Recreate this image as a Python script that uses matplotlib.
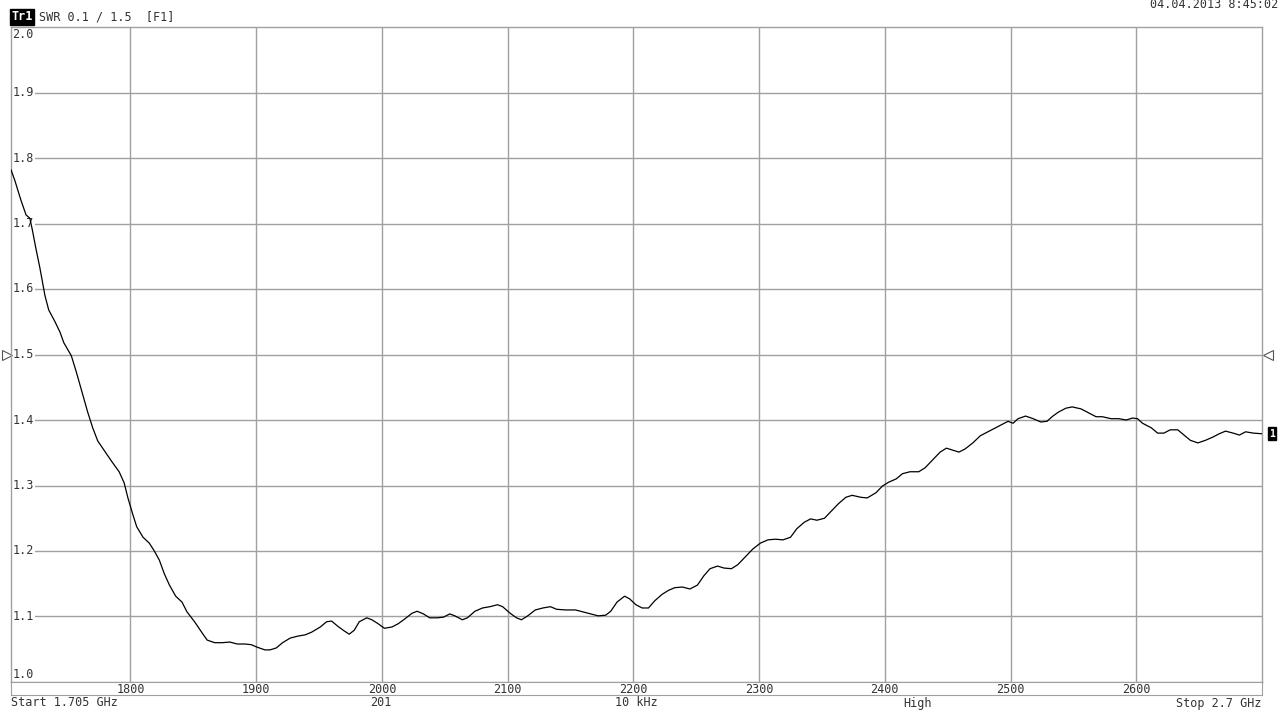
import matplotlib
matplotlib.use('Agg')
from matplotlib import pyplot as plt
from matplotlib.transforms import blended_transform_factory
import numpy as np

# frequency (MHz) and SWR
freq = [1705, 1708, 1713, 1717, 1720, 1722, 1725, 1728, 1732, 1735, 1740, 1744, 1747, 1753,
        1757, 1761, 1766, 1770, 1774, 1779, 1785, 1791, 1795, 1798, 1802, 1805, 1810, 1815,
        1819, 1823, 1827, 1831, 1836, 1841, 1845, 1851, 1857, 1861, 1867, 1873, 1879, 1885,
        1891, 1896, 1901, 1907, 1911, 1916, 1921, 1927, 1933, 1939, 1944, 1951, 1956, 1960,
        1965, 1970, 1974, 1978, 1982, 1988, 1992, 1997, 2002, 2008, 2013, 2018, 2024, 2028,
        2033, 2038, 2044, 2049, 2054, 2058, 2064, 2068, 2074, 2080, 2086, 2092, 2096, 2102,
        2107, 2111, 2116, 2122, 2128, 2134, 2139, 2146, 2154, 2160, 2166, 2172, 2178, 2182,
        2187, 2193, 2197, 2202, 2207, 2212, 2217, 2223, 2228, 2233, 2239, 2245, 2251, 2256,
        2261, 2267, 2272, 2278, 2283, 2289, 2295, 2301, 2307, 2313, 2319, 2325, 2330, 2336,
        2341, 2346, 2352, 2357, 2363, 2369, 2374, 2381, 2386, 2393, 2398, 2403, 2409, 2414,
        2420, 2427, 2432, 2438, 2444, 2449, 2454, 2459, 2464, 2470, 2476, 2483, 2488, 2494,
        2498, 2502, 2506, 2512, 2518, 2524, 2529, 2533, 2538, 2544, 2549, 2556, 2562, 2568,
        2573, 2580, 2586, 2592, 2597, 2601, 2605, 2612, 2617, 2622, 2627, 2633, 2638, 2643,
        2649, 2655, 2661, 2666, 2671, 2677, 2682, 2687, 2693, 2700]
swr = [1.782, 1.766, 1.735, 1.713, 1.708, 1.690, 1.660, 1.632, 1.590, 1.568, 1.550, 1.534,
       1.518, 1.498, 1.473, 1.446, 1.412, 1.388, 1.368, 1.354, 1.337, 1.321, 1.304, 1.281,
       1.255, 1.237, 1.221, 1.212, 1.200, 1.186, 1.165, 1.148, 1.131, 1.122, 1.107, 1.092,
       1.075, 1.064, 1.060, 1.060, 1.061, 1.058, 1.058, 1.057, 1.053, 1.049, 1.049, 1.052,
       1.060, 1.067, 1.070, 1.072, 1.076, 1.084, 1.092, 1.093, 1.085, 1.078, 1.073, 1.079,
       1.092, 1.098, 1.095, 1.089, 1.082, 1.084, 1.089, 1.096, 1.105, 1.108, 1.104, 1.098,
       1.098, 1.099, 1.104, 1.101, 1.095, 1.098, 1.108, 1.113, 1.115, 1.118, 1.115, 1.105,
       1.098, 1.095, 1.101, 1.110, 1.113, 1.115, 1.111, 1.110, 1.110, 1.107, 1.104, 1.101,
       1.102, 1.108, 1.122, 1.131, 1.127, 1.118, 1.113, 1.113, 1.124, 1.134, 1.140, 1.144,
       1.145, 1.142, 1.148, 1.162, 1.173, 1.177, 1.174, 1.173, 1.179, 1.191, 1.203, 1.212,
       1.217, 1.218, 1.217, 1.221, 1.234, 1.244, 1.249, 1.247, 1.250, 1.260, 1.272, 1.282,
       1.285, 1.282, 1.281, 1.289, 1.299, 1.305, 1.310, 1.318, 1.321, 1.321, 1.327, 1.339,
       1.351, 1.357, 1.354, 1.351, 1.356, 1.365, 1.376, 1.383, 1.388, 1.394, 1.398, 1.395,
       1.402, 1.406, 1.402, 1.397, 1.398, 1.405, 1.412, 1.418, 1.420, 1.417, 1.411, 1.405,
       1.405, 1.402, 1.402, 1.400, 1.403, 1.402, 1.395, 1.388, 1.380, 1.380, 1.385, 1.385,
       1.377, 1.369, 1.365, 1.369, 1.374, 1.379, 1.383, 1.380, 1.377, 1.382, 1.380, 1.379]

x_ticks = [1800, 1900, 2000, 2100, 2200, 2300, 2400, 2500, 2600]
y_ticks = [1.0, 1.1, 1.2, 1.3, 1.4, 1.5, 1.6, 1.7, 1.8, 1.9, 2.0]
ref_level = 1.5

W, H = 1280, 710
mono = 'DejaVu Sans Mono'
fs = 8.5
grid_col = '#a0a0a0'

fig = plt.figure(figsize=(W / 100, H / 100), dpi=100)
fig.patch.set_facecolor('white')

def px_box(l, t, r, b):
    return [l / W, 1 - b / H, (r - l) / W, (b - t) / H]

ax = fig.add_axes(px_box(11, 27, 1262, 682))
ax.set_xlim(1705, 2700)
ax.set_ylim(1.0, 2.0)
ax.set_xticks([])
ax.set_yticks([])
for s in ax.spines.values():
    s.set_color(grid_col)
    s.set_linewidth(1)

for xt in x_ticks:
    ax.axvline(xt, color=grid_col, lw=1, zorder=1)
for yt in y_ticks[1:-1]:
    ax.axhline(yt, color=grid_col, lw=1, zorder=1)

ax.plot(freq, swr, color='black', lw=0.9, zorder=3)

# y labels inside the grid, on white
for yt in y_ticks:
    va = 'center'
    off = 0
    if yt == y_ticks[-1]:
        va, off = 'top', -1
    elif yt == y_ticks[0]:
        va, off = 'bottom', 1
    ax.annotate('%.1f' % yt, xy=(0, yt), xycoords=('axes fraction', 'data'),
                xytext=(1, off), textcoords='offset points', ha='left', va=va,
                fontsize=fs, family=mono, color='#333333', zorder=2,
                bbox=dict(boxstyle='square,pad=0.1', fc='white', ec='none'))

# reference level triangles
tr = blended_transform_factory(ax.transAxes, ax.transData)
ax.plot([-0.0035], [ref_level], marker='>', ms=7, mfc='white', mec='#555555',
        mew=0.8, transform=tr, clip_on=False)
ax.plot([1.0045], [ref_level], marker='<', ms=7, mfc='white', mec='#555555',
        mew=0.8, transform=tr, clip_on=False)

# trace marker "1"
ax.annotate('1', xy=(1, swr[-1]), xycoords=('axes fraction', 'data'),
            xytext=(10, 0), textcoords='offset pixels', ha='center', va='center',
            fontsize=7, family=mono, color='white', fontweight='bold',
            bbox=dict(boxstyle='square,pad=0.15', fc='black', ec='black'),
            annotation_clip=False)

# frequency label strip
sx = fig.add_axes(px_box(11, 682, 1262, 695))
sx.set_xlim(1705, 2700)
sx.set_ylim(0, 1)
sx.set_xticks([])
sx.set_yticks([])
for s in sx.spines.values():
    s.set_color(grid_col)
for xt in x_ticks:
    sx.text(xt, 0.45, str(xt), ha='center', va='center', fontsize=fs,
            family=mono, color='#333333')

# header and footer
fig.text(11 / W, 1 - 17 / H, 'Tr1', ha='left', va='center', fontsize=fs,
         family=mono, color='white', fontweight='bold',
         bbox=dict(boxstyle='square,pad=0.1', fc='black', ec='black'))
fig.text(39 / W, 1 - 17 / H, 'SWR 0.1 / 1.5  [F1]', ha='left', va='center',
         fontsize=fs, family=mono, color='#333333')
fig.text(1278 / W, 1 - 5 / H, '04.04.2013 8:45:02', ha='right', va='center',
         fontsize=fs, family=mono, color='#333333')

foot_y = 1 - 703 / H
fig.text(11 / W, foot_y, 'Start 1.705 GHz', ha='left', va='center', fontsize=fs,
         family=mono, color='#333333')
fig.text(381 / W, foot_y, '201', ha='center', va='center', fontsize=fs,
         family=mono, color='#333333')
fig.text(636 / W, foot_y, '10 kHz', ha='center', va='center', fontsize=fs,
         family=mono, color='#333333')
fig.text(918 / W, foot_y, 'High', ha='center', va='center', fontsize=fs,
         family=mono, color='#333333')
fig.text(1262 / W, foot_y, 'Stop 2.7 GHz', ha='right', va='center', fontsize=fs,
         family=mono, color='#333333')

fig.savefig('out.png', dpi=100)
